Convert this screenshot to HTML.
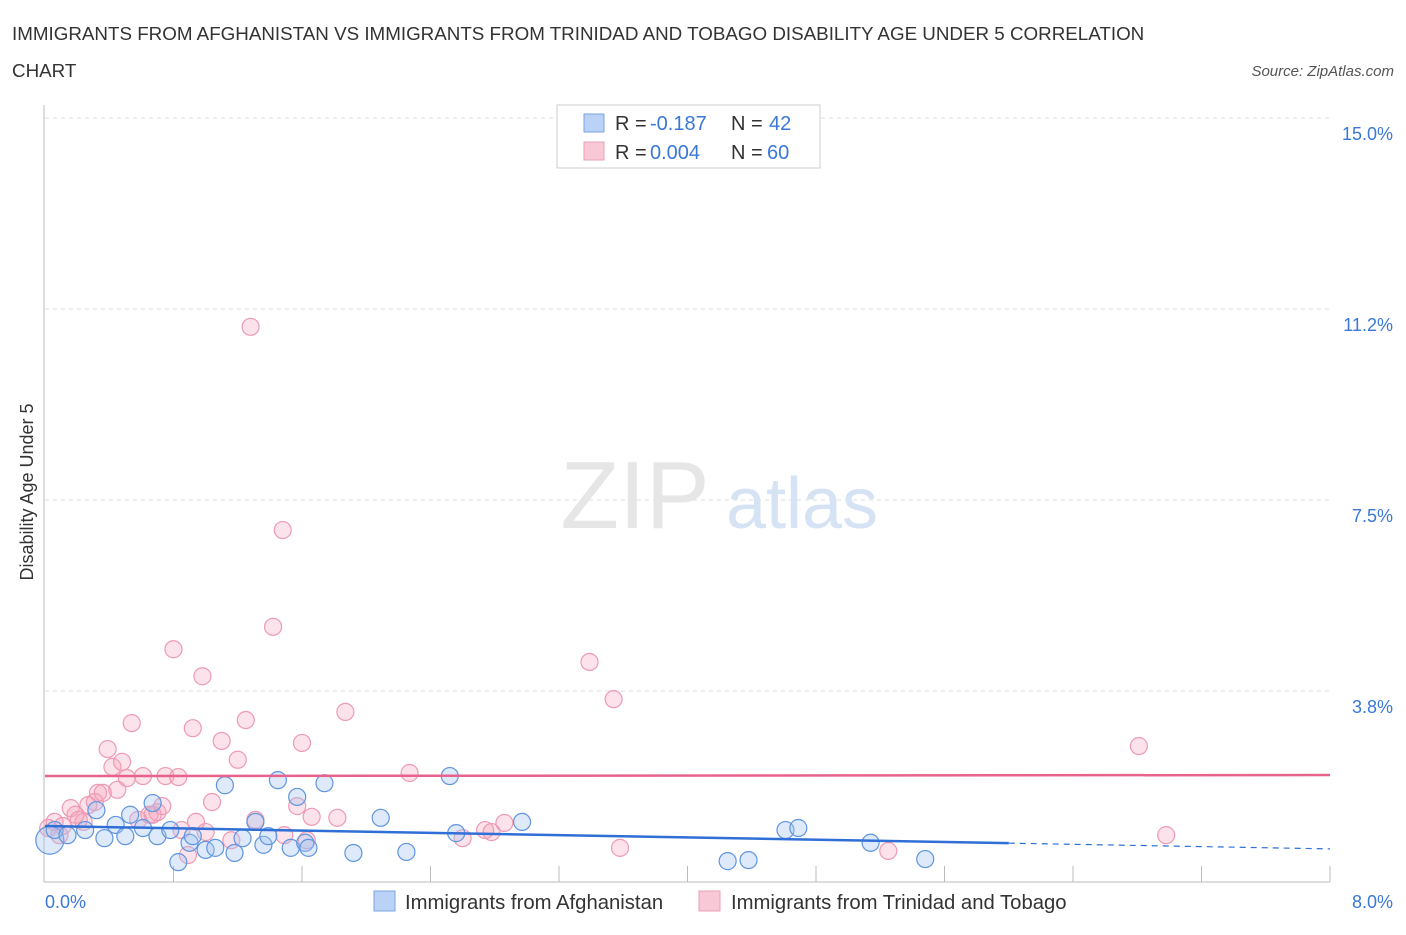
<!DOCTYPE html>
<html><head><meta charset="utf-8"><style>
body{margin:0;background:#fff;font-family:"Liberation Sans",sans-serif;}
svg text{font-family:"Liberation Sans",sans-serif;}
</style></head><body>
<svg width="1406" height="930" id="chart">
<text x="12" y="40" font-size="18.8" fill="#333">IMMIGRANTS FROM AFGHANISTAN VS IMMIGRANTS FROM TRINIDAD AND TOBAGO DISABILITY AGE UNDER 5 CORRELATION</text>
<text x="12" y="77" font-size="18.8" fill="#333">CHART</text>
<text x="1394" y="76" font-size="15" fill="#555" font-style="italic" text-anchor="end">Source: ZipAtlas.com</text>
<g id="grid"></g>
<text x="635" y="528" font-size="96" fill="#e6e6e6" font-family="Liberation Serif" text-anchor="middle">ZIP</text>
<text x="802" y="528" font-size="72" fill="#d5e3f5" text-anchor="middle">atlas</text>
<text transform="translate(33,492) rotate(-90)" font-size="18" fill="#333" text-anchor="middle">Disability Age Under 5</text>
<g id="marks"></g>
<g>
<rect x="557" y="105" width="263" height="63" fill="#fff" stroke="#ccc"/>
<rect x="584" y="114" width="20" height="18" fill="#b9d2f5" stroke="#7aa4e0"/>
<text x="615" y="130" font-size="20" fill="#333">R =</text>
<text x="650" y="130" font-size="20" fill="#3a78d8">-0.187</text>
<text x="731" y="130" font-size="20" fill="#333">N =</text>
<text x="769" y="130" font-size="20" fill="#3a78d8">42</text>
<rect x="584" y="142" width="20" height="18" fill="#f9c8d6" stroke="#e9a0b8"/>
<text x="615" y="159" font-size="20" fill="#333">R =</text>
<text x="650" y="159" font-size="20" fill="#3a78d8">0.004</text>
<text x="731" y="159" font-size="20" fill="#333">N =</text>
<text x="767" y="159" font-size="20" fill="#3a78d8">60</text>
</g>
<g>
<rect x="374" y="891" width="21" height="20" fill="#b9d2f5" stroke="#7aa4e0"/>
<text x="405" y="909" font-size="20.3" fill="#333">Immigrants from Afghanistan</text>
<rect x="699" y="891" width="21" height="20" fill="#f9c8d6" stroke="#e9a0b8"/>
<text x="731" y="909" font-size="20.3" fill="#333">Immigrants from Trinidad and Tobago</text>
</g>
</svg>
<script>
const yTicks=[3.75,7.5,11.25,15];
const yTickLabels=["3.8%","7.5%","11.2%","15.0%"];
const xTickLabels=["0.0%","8.0%"];
const blueX=[0.03,0.06,0.14,0.25,0.32,0.37,0.44,0.50,0.53,0.61,0.67,0.70,0.78,0.83,0.90,0.92,1.00,1.06,1.12,1.18,1.23,1.31,1.36,1.39,1.45,1.53,1.57,1.62,1.64,1.74,1.92,2.09,2.25,2.52,2.56,2.97,4.25,4.38,4.61,4.69,5.14,5.48];
const blueY=[0.82,1.02,0.92,1.02,1.41,0.86,1.12,0.90,1.32,1.06,1.55,0.90,1.02,0.39,0.77,0.90,0.63,0.67,1.90,0.57,0.86,1.18,0.73,0.90,2.00,0.67,1.67,0.77,0.67,1.94,0.57,1.26,0.59,2.08,0.96,1.18,0.41,0.43,1.02,1.06,0.77,0.45];
const pinkX=[0.02,0.06,0.09,0.11,0.16,0.19,0.21,0.24,0.27,0.31,0.33,0.36,0.39,0.42,0.45,0.48,0.51,0.54,0.58,0.61,0.65,0.67,0.70,0.73,0.75,0.80,0.83,0.85,0.89,0.92,0.94,0.98,1.00,1.04,1.10,1.16,1.20,1.25,1.28,1.31,1.42,1.48,1.49,1.57,1.60,1.63,1.66,1.82,1.87,2.27,2.60,2.74,2.78,2.86,3.39,3.54,3.58,5.25,6.81,6.98];
const pinkY=[1.06,1.18,0.92,1.10,1.45,1.32,1.22,1.18,1.51,1.57,1.75,1.75,2.61,2.26,1.81,2.36,2.04,3.12,1.22,2.08,1.32,1.32,1.37,1.49,2.08,4.57,2.06,1.02,0.53,3.02,1.18,4.04,0.98,1.57,2.77,0.82,2.40,3.18,10.90,1.22,5.01,6.91,0.92,1.49,2.73,0.82,1.28,1.26,3.34,2.14,0.86,1.02,0.98,1.16,4.32,3.59,0.67,0.61,2.67,0.92];
const blueLine=[1.10,0.65], pinkLine=[2.08,2.10];
const X=v=>45+v/8*1285, Y=v=>882-v/3.75*191;
const NS="http://www.w3.org/2000/svg";
function mk(t,a,p){const e=document.createElementNS(NS,t);for(const k in a)e.setAttribute(k,a[k]);p.appendChild(e);return e;}
const g=document.getElementById('grid'), m=document.getElementById('marks');
yTicks.forEach((t,i)=>{const l=mk('line',{x1:45,x2:1330,y1:Y(t),y2:Y(t),stroke:'#ddd','stroke-dasharray':'4,4'},g);


const tx=mk('text',{x:1393,y:Y(t)+22,'font-size':18,fill:'#3a78d8','text-anchor':'end'},g);tx.textContent=yTickLabels[i];

});
const ax=mk('line',{x1:44,x2:44,y1:105,y2:882,stroke:'#bbb'},g);


const bx=mk('line',{x1:44,x2:1330,y1:882,y2:882,stroke:'#bbb'},g);


for(let i=1;i<=10;i++){const t=mk('line',{x1:X(i*0.8),x2:X(i*0.8),y1:866,y2:882,stroke:'#bbb'},g);

}
[[0,'start',45],[1,'end',1393]].forEach(([i,a,x])=>{const t=mk('text',{x:x,y:908,'font-size':18,fill:'#3a78d8','text-anchor':a},g);t.textContent=xTickLabels[i];

});
pinkX.forEach((x,i)=>{const c=mk('circle',{cx:X(x),cy:Y(pinkY[i]),r:8.5,fill:'rgba(244,160,186,0.3)',stroke:'#ee9ab4','stroke-width':1.2},m);

});
blueX.forEach((x,i)=>{const c=mk('circle',{cx:X(x),cy:Y(blueY[i]),r:i==0?14:8.5,fill:'rgba(160,196,240,0.35)',stroke:'#5f95e0','stroke-width':1.2},m);

});
const yb=v=>blueLine[0]+(blueLine[1]-blueLine[0])*v/8;
const l1=mk('line',{x1:X(0),y1:Y(yb(0)),x2:X(6),y2:Y(yb(6)),stroke:'#2f6fd6','stroke-width':2.5},m);


const l2=mk('line',{x1:X(6),y1:Y(yb(6)),x2:X(8),y2:Y(yb(8)),stroke:'#2f6fd6','stroke-width':1.2,'stroke-dasharray':'6,5'},m);


const l3=mk('line',{x1:X(0),y1:Y(pinkLine[0]),x2:X(8),y2:Y(pinkLine[1]),stroke:'#e8638c','stroke-width':2.5},m);


</script>
</body></html>
